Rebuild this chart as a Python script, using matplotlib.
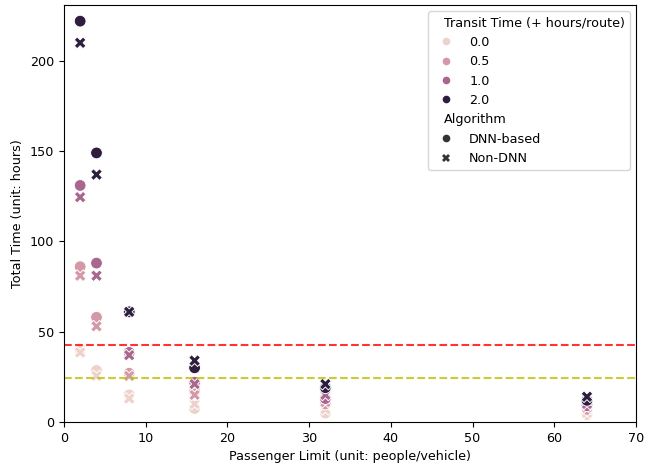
import matplotlib
matplotlib.use("Agg")
import matplotlib.pyplot as plt
from matplotlib.offsetbox import VPacker
import pandas as pd
import seaborn as sns

passenger_limits = [2, 4, 8, 16, 32, 64]
transit_times = [0.0, 0.5, 1.0, 2.0]

# total time (hours) per transit time
dnn_times = {
    0.0: [40, 28.5, 15, 7.5, 5, 4],
    0.5: [86, 58, 27, 17, 10, 7],
    1.0: [131, 88, 38.5, 22, 13, 9],
    2.0: [222, 149, 61, 30, 19, 12],
}
non_dnn_times = {
    0.0: [38.5, 25.5, 13, 10, 7, 5],
    0.5: [81, 53, 25.5, 15, 11, 8],
    1.0: [124.5, 81, 37, 21, 15, 10],
    2.0: [210, 137, 61, 34, 21, 14],
}

red_line = 42.5
yellow_line = 24.3

hue_col = "Transit Time (+ hours/route)"
subtitles = [hue_col, "Algorithm"]

rows = []
for t in transit_times:
    for algo, table in [("DNN-based", dnn_times), ("Non-DNN", non_dnn_times)]:
        for x, y in zip(passenger_limits, table[t]):
            rows.append({"limit": x, "total": y, hue_col: t, "Algorithm": algo})
df = pd.DataFrame(rows)

plt.rcParams["font.size"] = 9.2

fig = plt.figure(figsize=(6.51, 4.65), dpi=100)
ax = fig.add_axes([0.098, 0.0925, 0.879, 0.897])

sns.scatterplot(
    data=df, x="limit", y="total", hue=hue_col, style="Algorithm",
    s=72, legend="full", ax=ax,
)

ax.axhline(red_line, color="r", linestyle="--", alpha=0.8)
ax.axhline(yellow_line, color="y", linestyle="--", alpha=0.8)

ax.set_xlim(0, 70)
ax.set_ylim(0, 231)
ax.set_xlabel("Passenger Limit (unit: people/vehicle)")
ax.set_ylabel("Total Time (unit: hours)")

leg = ax.legend(loc="upper right")
for h in leg.legend_handles:
    if hasattr(h, "set_markersize"):
        h.set_markersize(5.5)
        h.set_markeredgewidth(0)

# pull the subtitle rows left, like old seaborn legends
rows_box = leg.findobj(VPacker)[0].get_children()
for hpack in rows_box:
    draw_area, text_area = hpack.get_children()
    texts = [t.get_text() for t in text_area.get_children()]
    if any(t in subtitles for t in texts):
        draw_area.set_width(0)

fig.savefig("out.png", dpi=100)
